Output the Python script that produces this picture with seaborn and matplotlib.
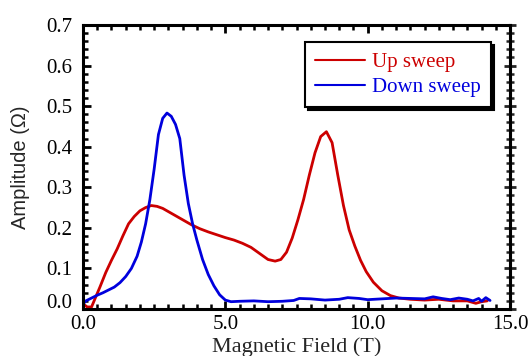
import matplotlib
matplotlib.use("Agg")
import matplotlib.pyplot as plt
import matplotlib.transforms as mtransforms
from matplotlib.ticker import MultipleLocator, FormatStrFormatter
from matplotlib.lines import Line2D
import seaborn as sns
import pandas as pd

# ---- data ----
up_x = [0.05, 0.15, 0.3, 0.45, 0.6, 0.8, 1.0, 1.2, 1.4, 1.6, 1.8, 2.0, 2.2, 2.4, 2.6,
        2.8, 3.0, 3.2, 3.5, 3.8, 4.1, 4.4, 4.7, 5.0, 5.3, 5.6, 5.9, 6.2, 6.5, 6.75,
        6.95, 7.15, 7.35, 7.55, 7.75, 7.95, 8.15, 8.35, 8.55, 8.75, 8.95, 9.15, 9.35,
        9.55, 9.75, 9.95, 10.2, 10.5, 10.8, 11.1, 11.5, 12.0, 12.5, 13.0, 13.5, 13.8,
        14.0, 14.2]
up_y = [0.010, 0.005, 0.005, 0.030, 0.055, 0.090, 0.120, 0.148, 0.180, 0.210, 0.228,
        0.242, 0.250, 0.255, 0.253, 0.248, 0.240, 0.232, 0.220, 0.208, 0.198, 0.190,
        0.183, 0.176, 0.170, 0.162, 0.152, 0.137, 0.122, 0.118, 0.122, 0.140, 0.175,
        0.220, 0.270, 0.330, 0.385, 0.425, 0.437, 0.410, 0.330, 0.255, 0.195, 0.155,
        0.120, 0.092, 0.066, 0.045, 0.033, 0.027, 0.024, 0.022, 0.024, 0.020, 0.020,
        0.014, 0.018, 0.020]

down_x = [0.0, 0.1, 0.3, 0.5, 0.7, 0.9, 1.1, 1.3, 1.5, 1.7, 1.9, 2.05, 2.2, 2.35, 2.5,
          2.65, 2.8, 2.95, 3.1, 3.25, 3.4, 3.55, 3.7, 3.85, 4.0, 4.2, 4.4, 4.6, 4.8,
          5.0, 5.2, 5.5, 6.0, 6.5, 7.0, 7.4, 7.6, 8.0, 8.5, 9.0, 9.3, 9.7, 10.0, 10.5,
          11.0, 11.5, 12.0, 12.3, 12.6, 12.9, 13.2, 13.5, 13.7, 13.9, 14.0, 14.15, 14.3]
down_y = [0.012, 0.020, 0.027, 0.034, 0.040, 0.047, 0.054, 0.065, 0.080, 0.100, 0.130,
          0.165, 0.210, 0.270, 0.345, 0.430, 0.470, 0.483, 0.475, 0.455, 0.420, 0.330,
          0.260, 0.210, 0.170, 0.122, 0.085, 0.057, 0.035, 0.022, 0.018, 0.019, 0.020,
          0.018, 0.019, 0.021, 0.026, 0.025, 0.022, 0.024, 0.028, 0.026, 0.023, 0.025,
          0.027, 0.026, 0.025, 0.030, 0.026, 0.023, 0.027, 0.024, 0.020, 0.026, 0.019,
          0.028, 0.021]

series_names = ["Up sweep", "Down sweep"]
series_colors = ["#cc0000", "#0000dd"]
x_ticks = [0.0, 5.0, 10.0, 15.0]
y_ticks = [0.0, 0.1, 0.2, 0.3, 0.4, 0.5, 0.6, 0.7]

df = pd.concat([
    pd.DataFrame({"field": up_x, "amp": up_y, "sweep": series_names[0]}),
    pd.DataFrame({"field": down_x, "amp": down_y, "sweep": series_names[1]}),
], ignore_index=True)

sns.set_style("ticks")
plt.rcParams["font.family"] = ["Liberation Serif", "DejaVu Serif"]

fig = plt.figure(figsize=(5.31, 3.56), dpi=100)
ax = fig.add_axes([83 / 531, 1 - 309 / 356, (510 - 83) / 531, (309 - 25) / 356])

sns.lineplot(data=df, x="field", y="amp", hue="sweep", hue_order=series_names,
             palette=dict(zip(series_names, series_colors)), sort=False,
             estimator=None, linewidth=2.0, ax=ax, legend=False)

ax.set_xlim(0, 15)
ax.set_ylim(0, 0.7)
ax.set_xticks(x_ticks)
ax.set_yticks(y_ticks)
ax.xaxis.set_major_formatter(FormatStrFormatter("%.1f"))
ax.yaxis.set_major_formatter(FormatStrFormatter("%.1f"))
ax.xaxis.set_minor_locator(MultipleLocator(0.5))
ax.yaxis.set_minor_locator(MultipleLocator(0.02))

for s in ax.spines.values():
    s.set_linewidth(2.2)
    s.set_color("black")

ax.tick_params(which="both", direction="in", top=True, right=False, width=2,
               labelsize=15, colors="black", pad=8)
ax.tick_params(which="major", length=6)
ax.tick_params(which="minor", length=3.5, width=1.8)
ax.tick_params(axis="x", pad=4)
# right axis ticks cross the spine
axr = ax.secondary_yaxis("right")
axr.set_yticks(y_ticks)
axr.yaxis.set_minor_locator(MultipleLocator(0.02))
axr.tick_params(which="both", direction="inout", labelright=False, width=2)
axr.tick_params(which="major", length=8)
axr.tick_params(which="minor", length=6, width=1.8)
axr.spines["right"].set_linewidth(2.2)

ax.set_xlabel("Magnetic Field (T)", fontsize=16, labelpad=3)
ax.set_ylabel("Amplitude (Ω)", fontsize=14.5, family=["Liberation Sans", "DejaVu Sans"],
              labelpad=11)

# raise the 0.0 y tick label like in the reference
zero_tick = ax.yaxis.get_major_ticks()[0]
zero_tick.label1.set_transform(zero_tick.label1.get_transform() +
                               mtransforms.ScaledTranslation(0, 8 / 100, fig.dpi_scale_trans))

# legend
handles = [Line2D([], [], color=c, linewidth=1.5) for c in series_colors]
leg = ax.legend(handles, series_names, loc="upper right",
                bbox_to_anchor=(0.955, 0.94), borderaxespad=0, fontsize=15,
                frameon=True, fancybox=False, shadow={"color": "black", "alpha": 1},
                handlelength=2.4, handletextpad=0.3, borderpad=0.5,
                labelspacing=0.25)
leg.get_frame().set_edgecolor("black")
leg.get_frame().set_linewidth(1.5)
leg.get_frame().set_alpha(1)
for t, c in zip(leg.get_texts(), series_colors):
    t.set_color(c)

fig.savefig("out.png", dpi=100)
